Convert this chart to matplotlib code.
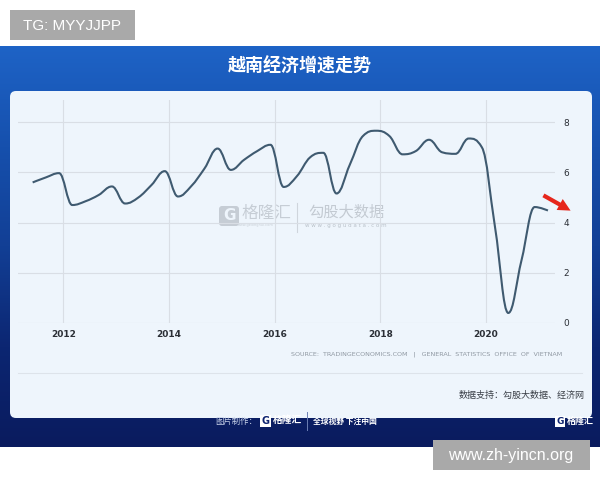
import numpy as np
import matplotlib
matplotlib.use("Agg")
import matplotlib.pyplot as plt
from matplotlib.path import Path
from matplotlib.patches import PathPatch, Rectangle, FancyBboxPatch
from matplotlib.colors import LinearSegmentedColormap

# ==========================
# Data: Vietnam GDP growth, y-o-y %, quarterly
# ==========================
years = [2011, 2011, 2011,
         2012, 2012, 2012, 2012,
         2013, 2013, 2013, 2013,
         2014, 2014, 2014, 2014,
         2015, 2015, 2015, 2015,
         2016, 2016, 2016, 2016,
         2017, 2017, 2017, 2017,
         2018, 2018, 2018, 2018,
         2019, 2019, 2019, 2019,
         2020, 2020, 2020, 2020,
         2021]
quarters = [2, 3, 4] + [1, 2, 3, 4] * 9 + [1]
growth = [5.6, 5.8, 5.97,
          4.7, 4.85, 5.1, 5.44,
          4.76, 5.0, 5.5, 6.05,
          5.04, 5.45, 6.15, 6.95,
          6.1, 6.5, 6.85, 7.1,
          5.42, 5.85, 6.6, 6.78,
          5.16, 6.3, 7.45, 7.66,
          7.45, 6.72, 6.85, 7.3,
          6.8, 6.74, 7.35, 7.0,
          3.8, 0.4, 2.5, 4.62,
          4.48]

year_ticks = [2012, 2014, 2016, 2018, 2020]
value_ticks = [0, 2, 4, 6, 8]

W, H = 600, 480
x_dates = np.array(years) + (np.array(quarters) - 1) * 0.25 + 0.17


def spline_path(xs, ys, smoothing=1.5):
    # highcharts style spline through the points
    n = len(xs)
    conts = [None] * n
    for i in range(1, n - 1):
        x, y = xs[i], ys[i]
        px, py = xs[i - 1], ys[i - 1]
        nx, ny = xs[i + 1], ys[i + 1]
        d = smoothing + 1
        lcx, lcy = (smoothing * x + px) / d, (smoothing * y + py) / d
        rcx, rcy = (smoothing * x + nx) / d, (smoothing * y + ny) / d
        corr = ((rcy - lcy) * (rcx - x)) / (rcx - lcx) + y - rcy
        lcy += corr
        rcy += corr
        if lcy > py and lcy > y:
            lcy = max(py, y); rcy = 2 * y - lcy
        elif lcy < py and lcy < y:
            lcy = min(py, y); rcy = 2 * y - lcy
        if rcy > ny and rcy > y:
            rcy = max(ny, y); lcy = 2 * y - rcy
        elif rcy < ny and rcy < y:
            rcy = min(ny, y); lcy = 2 * y - rcy
        conts[i] = (lcx, lcy, rcx, rcy)
    verts = [(xs[0], ys[0])]
    codes = [Path.MOVETO]
    for i in range(1, n):
        p, c = conts[i - 1], conts[i]
        c1 = (p[2], p[3]) if p else (xs[i - 1], ys[i - 1])
        c2 = (c[0], c[1]) if c else (xs[i], ys[i])
        verts += [c1, c2, (xs[i], ys[i])]
        codes += [Path.CURVE4] * 3
    return Path(verts, codes)


CJK = ["Noto Sans CJK SC", "DejaVu Sans"]

fig = plt.figure(figsize=(6, 4.8), dpi=100)
fig.patch.set_facecolor("white")

# ==========================
# Background layer (pixel coords)
# ==========================
bg = fig.add_axes([0, 0, 1, 1])
bg.set_xlim(0, W)
bg.set_ylim(H, 0)
bg.axis("off")

blue = LinearSegmentedColormap.from_list(
    "bl", ["#1e63c6", "#1650ad", "#123f95", "#0c2672", "#0a1b5e"])
grad = np.linspace(0, 1, 256).reshape(-1, 1)
bg.imshow(grad, cmap=blue, extent=[0, W, 447, 46], aspect="auto", zorder=0)

bg.add_patch(FancyBboxPatch((10, 91), 582, 327,
                            boxstyle="round,pad=0,rounding_size=6",
                            facecolor="#eef5fc", edgecolor="none", zorder=1))

bg.add_patch(Rectangle((10, 10), 125, 30, facecolor="#a9a9a9",
                       edgecolor="none", zorder=1))
bg.text(72, 25.5, "TG: MYYJJPP", color="white", fontsize=11,
        family="Liberation Sans", ha="center", va="center", zorder=2)

bg.text(300, 66, "越南经济增速走势", color="white", fontsize=13,
        fontweight="bold", family=CJK, ha="center", va="center", zorder=2)

# watermark in the middle
bg.add_patch(FancyBboxPatch((219, 206), 20, 20,
                            boxstyle="round,pad=0,rounding_size=3",
                            facecolor="#c6cdd5", edgecolor="none", zorder=1))
bg.text(229, 216, "G", color="#eef5fc", fontsize=11, fontweight="bold",
        ha="center", va="center", zorder=2)
bg.text(242, 213, "格隆汇", color="#c6cdd5", fontsize=12,
        family=CJK, ha="left", va="center", zorder=2)
bg.text(256, 225, "www.gelonghui.com", color="#c8cfd6", fontsize=2.5,
        ha="center", va="center", zorder=2)
bg.plot([297, 297], [203, 232], color="#cfd5dc", lw=0.8, zorder=2)
bg.text(346, 212, "勾股大数据", color="#c3cad2", fontsize=11,
        family=CJK, ha="center", va="center", zorder=2)
bg.text(346, 226, "w w w . g o g u d a t a . c o m", color="#b9c1c9",
        fontsize=4, ha="center", va="center", zorder=2)

# source + separator + data credit
bg.text(562, 354, "SOURCE:  TRADINGECONOMICS.COM   |   GENERAL  STATISTICS  OFFICE  OF  VIETNAM",
        color="#8f98a2", fontsize=4.6, ha="right", va="center", zorder=2)
bg.plot([18, 582], [373, 373], color="#dde3ea", lw=0.8, zorder=2)
bg.text(585, 395, "数据支持：勾股大数据、经济网", color="#3a3f47", fontsize=6.5,
        family=CJK, ha="right", va="center", zorder=2)

# bottom band
bg.text(236, 421, "图片制作：", color="#c9d3ea", fontsize=6, family=CJK,
        ha="center", va="center", zorder=2)
bg.add_patch(Rectangle((260, 415), 11, 12, facecolor="white",
                       edgecolor="none", zorder=2))
bg.text(265.5, 421, "G", color="#0d2370", fontsize=7, fontweight="bold",
        ha="center", va="center", zorder=3)
bg.text(273, 420, "格隆汇", color="white", fontsize=7, fontweight="bold",
        family=CJK, ha="left", va="center", zorder=2)
bg.plot([307, 307], [412, 430], color="#6c7fb4", lw=0.7, zorder=2)
bg.text(313, 421, "全球视野 下注中国", color="white", fontsize=5.6,
        fontweight="bold", family=CJK, ha="left", va="center", zorder=2)
bg.add_patch(Rectangle((555, 416), 10, 11, facecolor="white",
                       edgecolor="none", zorder=2))
bg.text(560, 421.5, "G", color="#0d2370", fontsize=6.5, fontweight="bold",
        ha="center", va="center", zorder=3)
bg.text(567, 421, "格隆汇", color="white", fontsize=6.5, fontweight="bold",
        family=CJK, ha="left", va="center", zorder=2)

# site watermark bottom right
bg.add_patch(Rectangle((433, 440), 157, 30, facecolor="#a9a9a9",
                       edgecolor="none", zorder=3))
bg.text(511, 455.5, "www.zh-yincn.org", color="white", fontsize=11.5,
        family="Liberation Sans", ha="center", va="center", zorder=4)

# ==========================
# Main chart
# ==========================
px_per_year = 52.85
x0 = 2012 - (63.3 - 18) / px_per_year
x1 = 2012 + (555 - 63.3) / px_per_year
y_top = (323 - 100) / 25.1

ax = fig.add_axes([18 / W, 1 - 323 / H, (555 - 18) / W, (323 - 100) / H])
ax.patch.set_alpha(0)
ax.set_xlim(x0, x1)
ax.set_ylim(0, y_top)
for s in ax.spines.values():
    s.set_visible(False)

ax.set_xticks(year_ticks)
ax.set_xticklabels([str(y) for y in year_ticks])
ax.set_yticks(value_ticks)
ax.yaxis.tick_right()
ax.tick_params(axis="both", length=0, labelsize=6.5, colors="#2b2f36")
ax.tick_params(axis="x", pad=5)
ax.tick_params(axis="y", pad=6)
for lb in ax.get_xticklabels():
    lb.set_fontweight("bold")
ax.grid(True, color="#d9dee5", lw=0.8)
ax.set_axisbelow(True)

ax.add_patch(PathPatch(spline_path(x_dates, growth), facecolor="none",
                       edgecolor="#3f5a70", lw=1.5, zorder=3))

# red arrow pointing to the latest value
bg.annotate("", xy=(573, 212), xytext=(541, 194),
            arrowprops=dict(arrowstyle="simple,head_width=0.9,head_length=0.9,tail_width=0.3",
                            facecolor="#e6261c", edgecolor="none"), zorder=5)

fig.savefig("out.png", dpi=100)
